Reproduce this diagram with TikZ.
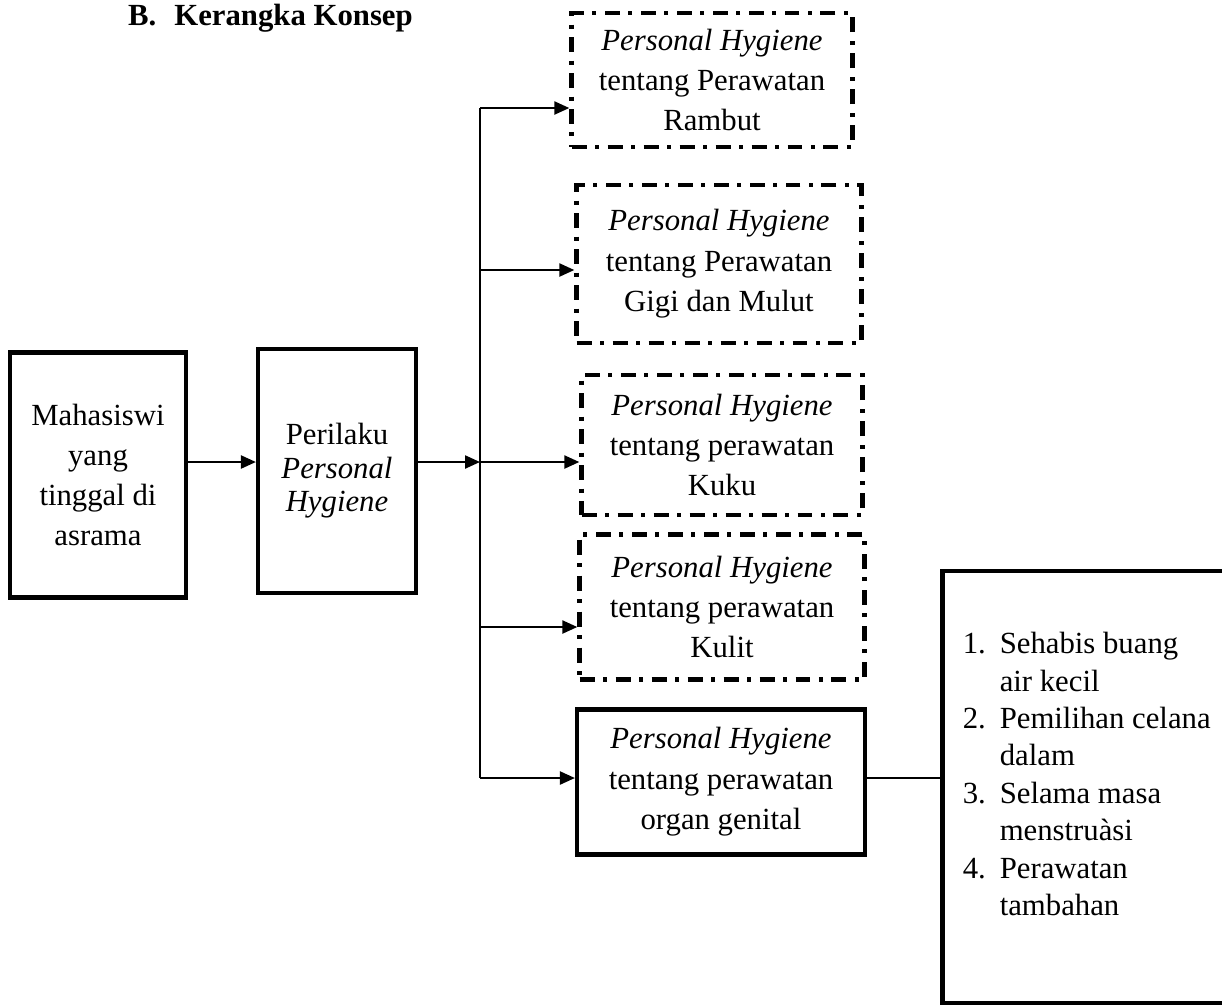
\documentclass[tikz,border=0pt]{standalone}
\usepackage{fontspec}
\setmainfont{Liberation Serif}
\usetikzlibrary{arrows.meta}
\tikzset{solidbox/.style={draw, line width=2.4pt, align=center}}
\tikzset{dashbox/.style={draw, line width=2.5pt, align=center, dash pattern=on 0.3cm off 0.17cm on 0.08cm off 0.17cm}}
\tikzset{link/.style={line width=1.3pt, -{Triangle[length=0.3cm,width=0.26cm]}}}
\tikzset{trunk/.style={line width=1.3pt}}

\begin{document}
\begin{tikzpicture}[x=0.02cm, y=-0.02cm]
	% Default action for each node
	\tikzstyle{every node}=[font=\fontsize{17.5}{23}\selectfont];
	\useasboundingbox (0,0) rectangle (1222,1005);

	% Title
	\node[anchor=base west, font=\fontsize{17.5}{21}\selectfont\bfseries] (title) at (122,25) {B.\hspace{0.36cm}Kerangka Konsep};

	% LHS
	\node[solidbox, minimum width=3.52cm, minimum height=4.9cm, font=\fontsize{17.5}{22.8}\selectfont] (mhs) at (98,475) {Mahasiswi\\yang\\tinggal di\\asrama};
	\node[solidbox, minimum width=3.16cm, minimum height=4.88cm, font=\fontsize{17.5}{19}\selectfont] (perilaku) at (337,471) {Perilaku\\\textit{Personal}\\\textit{Hygiene}};

	% MIDDLE
	\node[dashbox, minimum width=5.62cm, minimum height=2.68cm] (rambut) at (712,80) {\textit{Personal Hygiene}\\tentang Perawatan\\Rambut};
	\node[dashbox, minimum width=5.7cm, minimum height=3.16cm] (gigi) at (719,264) {\textit{Personal Hygiene}\\tentang Perawatan\\Gigi dan Mulut};
	\node[dashbox, minimum width=5.62cm, minimum height=2.8cm] (kuku) at (722,445) {\textit{Personal Hygiene}\\tentang perawatan\\Kuku};
	\node[dashbox, minimum width=5.7cm, minimum height=2.9cm] (kulit) at (722,607) {\textit{Personal Hygiene}\\tentang perawatan\\Kulit};
	\node[solidbox, minimum width=5.76cm, minimum height=2.9cm] (genital) at (721,782) {\textit{Personal Hygiene}\\tentang perawatan\\organ genital};

	% RHS
	\node[solidbox, minimum width=5.94cm, minimum height=8.64cm] (list) at (1091,787) {};
	\node[anchor=north west, align=left, inner sep=0pt, font=\fontsize{17.5}{21.3}\selectfont] (items) at ([xshift=0.44cm, yshift=-1.26cm]list.north west)
		{\makebox[0.74cm][l]{1.}Sehabis buang\\\hspace*{0.74cm}air kecil\\
		 \makebox[0.74cm][l]{2.}Pemilihan celana\\\hspace*{0.74cm}dalam\\
		 \makebox[0.74cm][l]{3.}Selama masa\\\hspace*{0.74cm}menstruàsi\\
		 \makebox[0.74cm][l]{4.}Perawatan\\\hspace*{0.74cm}tambahan};

	% Trunk points
	\coordinate (t1) at (480,108);
	\coordinate (t2) at (480,270);
	\coordinate (t3) at (480,462);
	\coordinate (t4) at (480,627);
	\coordinate (t5) at (480,778);

	% Horizontals
	\draw[link] (mhs.east |- t3) -- (perilaku.west |- t3);
	\draw[link] (perilaku.east |- t3) -- (t3);

	\draw[link] (t1) -- (t1 -| rambut.west);
	\draw[link] (t2) -- (t2 -| gigi.west);
	\draw[link] (t3) -- (t3 -| kuku.west);
	\draw[link] (t4) -- (t4 -| kulit.west);
	\draw[link] (t5) -- (t5 -| genital.west);

	\draw[line width=0.8pt] (genital.east |- t5) -- (list.west |- t5);

	% Verticals
	\draw[trunk] (t1) -- (t5);
\end{tikzpicture}
\end{document}
